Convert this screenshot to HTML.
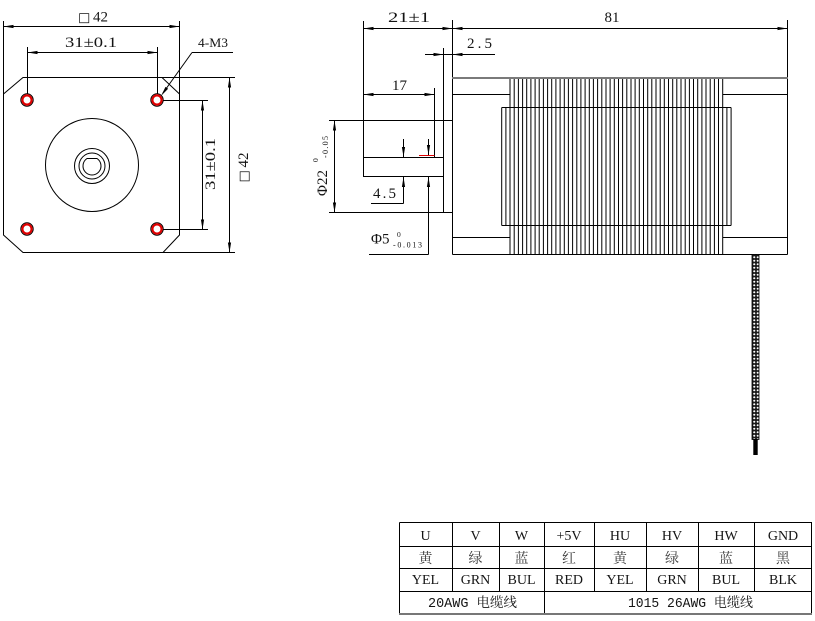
<!DOCTYPE html>
<html>
<head>
<meta charset="utf-8">
<style>
  html,body{margin:0;padding:0;background:#fff;}
  svg{display:block;}
  .t{font-family:"Liberation Serif","Noto Serif CJK SC",serif;fill:#141414;}
  .m{font-family:"Liberation Mono","Noto Serif CJK SC",monospace;fill:#141414;}
  .cj{font-family:"Liberation Serif","Noto Serif CJK SC",serif;fill:#3a3a3a;}
</style>
</head>
<body>
<svg width="815" height="621" viewBox="0 0 815 621" xmlns="http://www.w3.org/2000/svg">
  <defs>
    <pattern id="braid" width="3.5" height="3.5" patternUnits="userSpaceOnUse">
      <rect width="3.5" height="3.5" fill="#1a1a1a"/>
      <circle cx="1.75" cy="1.75" r="1.05" fill="#fff"/>
    </pattern>
  </defs>
  <rect width="815" height="621" fill="#fff"/>

  <!-- ================= LEFT (front) VIEW ================= -->
  <g stroke="#000" stroke-width="1" fill="none">
    <polygon points="23,77.5 162,77.5 179.5,94 179.5,235 163,252.5 23,252.5 3.5,235 3.5,94"/>
    <line x1="3.5" y1="21" x2="3.5" y2="94"/>
    <line x1="179.5" y1="21" x2="179.5" y2="94"/>
    <line x1="3.5" y1="26.5" x2="179.5" y2="26.5"/>
    <line x1="27.5" y1="47" x2="27.5" y2="94"/>
    <line x1="157.5" y1="47" x2="157.5" y2="94"/>
    <line x1="27.5" y1="52.5" x2="157.5" y2="52.5"/>
    <line x1="162" y1="77.5" x2="235" y2="77.5"/>
    <line x1="163" y1="252.5" x2="235" y2="252.5"/>
    <line x1="229.5" y1="77.5" x2="229.5" y2="252.5"/>
    <line x1="163" y1="100.5" x2="208" y2="100.5"/>
    <line x1="163" y1="229.5" x2="208" y2="229.5"/>
    <line x1="202.5" y1="100.5" x2="202.5" y2="229.5"/>
    <line x1="192" y1="52.5" x2="233" y2="52.5"/>
    <line x1="192" y1="52.5" x2="163" y2="93"/>
    <circle cx="92" cy="165" r="46.5"/>
    <circle cx="92" cy="166" r="17.5"/>
    <circle cx="92" cy="166" r="13"/>
    <path d="M87,158.5 L97,158.5 A9 9 0 1 1 87,158.5 Z"/>
  </g>
  <g fill="none">
    <g stroke="#000" stroke-width="1">
      <circle cx="27" cy="100" r="6.2"/><circle cx="157" cy="100" r="6.2"/>
      <circle cx="27" cy="229" r="6.2"/><circle cx="157" cy="229" r="6.2"/>
    </g>
    <g stroke="#e00000" stroke-width="2.2">
      <circle cx="27" cy="100" r="4.6"/><circle cx="157" cy="100" r="4.6"/>
      <circle cx="27" cy="229" r="4.6"/><circle cx="157" cy="229" r="4.6"/>
    </g>
  </g>
  <g fill="#000">
    <polygon points="3.5,26.5 13.5,24.9 13.5,28.1"/>
    <polygon points="179.5,26.5 169.5,24.9 169.5,28.1"/>
    <polygon points="27.5,52.5 37.5,50.9 37.5,54.1"/>
    <polygon points="157.5,52.5 147.5,50.9 147.5,54.1"/>
    <polygon points="229.5,77.5 227.9,87.5 231.1,87.5"/>
    <polygon points="229.5,252.5 227.9,242.5 231.1,242.5"/>
    <polygon points="202.5,100.5 200.9,110.5 204.1,110.5"/>
    <polygon points="202.5,229.5 200.9,219.5 204.1,219.5"/>
    <polygon points="161,96 168.1,88.8 165.5,86.9"/>
  </g>
  <text x="78" y="21.5" class="t" font-size="15"><tspan font-family="DejaVu Sans" font-size="13">□</tspan><tspan x="93">42</tspan></text>
  <text x="65" y="47" class="t" font-size="15" textLength="52" lengthAdjust="spacingAndGlyphs">31±0.1</text>
  <text x="198" y="47" class="t" font-size="13" textLength="30" lengthAdjust="spacingAndGlyphs">4-M3</text>
  <g transform="translate(215,190) rotate(-90)">
    <text x="0" y="0" class="t" font-size="15" textLength="52" lengthAdjust="spacingAndGlyphs">31±0.1</text>
  </g>
  <g transform="translate(248,182.5) rotate(-90)">
    <text x="0" y="0" class="t" font-size="15"><tspan font-family="DejaVu Sans" font-size="13">□</tspan><tspan x="15">42</tspan></text>
  </g>

  <!-- ================= RIGHT (side) VIEW ================= -->
  <path stroke="#000" stroke-width="1" fill="none" d="
    M510.0 78V254 M514.2 78V254 M518.4 78V254 M522.6 78V254 M526.7 78V254 M530.9 78V254
    M535.1 78V254 M539.2 78V254 M543.4 78V254 M547.6 78V254 M551.7 78V254 M555.9 78V254
    M560.1 78V254 M564.3 78V254 M568.4 78V254 M572.6 78V254 M576.8 78V254 M580.9 78V254
    M585.1 78V254 M589.3 78V254 M593.4 78V254 M597.6 78V254 M601.8 78V254 M606.0 78V254
    M610.1 78V254 M614.3 78V254 M618.5 78V254 M622.6 78V254 M626.8 78V254 M631.0 78V254
    M635.1 78V254 M639.3 78V254 M643.5 78V254 M647.7 78V254 M651.8 78V254 M656.0 78V254
    M660.2 78V254 M664.3 78V254 M668.5 78V254 M672.7 78V254 M676.8 78V254 M681.0 78V254
    M685.2 78V254 M689.4 78V254 M693.5 78V254 M697.7 78V254 M701.9 78V254 M706.0 78V254
    M710.2 78V254 M714.4 78V254 M718.5 78V254 M722.7 78V254
    M501.7 107.5V225.5 M505.9 107.5V225.5 M726.9 107.5V225.5 M731.1 107.5V225.5
    M501.7 107.5H731.1 M501.7 225.5H731.1"/>
  <g stroke="#000" stroke-width="1" fill="none">
    <line x1="452.5" y1="20" x2="452.5" y2="254.5"/>
    <line x1="787.5" y1="20" x2="787.5" y2="254.5"/>
    <line x1="452.5" y1="254.5" x2="787.5" y2="254.5"/>
    <line x1="452.5" y1="94.5" x2="510" y2="94.5"/>
    <line x1="722.7" y1="94.5" x2="787.5" y2="94.5"/>
    <line x1="452.5" y1="237.5" x2="510" y2="237.5"/>
    <line x1="722.7" y1="237.5" x2="787.5" y2="237.5"/>
    <line x1="363.5" y1="21" x2="363.5" y2="177"/>
    <line x1="363.5" y1="28.5" x2="787.5" y2="28.5"/>
    <line x1="425" y1="54.5" x2="495" y2="54.5"/>
    <line x1="443.5" y1="48" x2="443.5" y2="212.5"/>
    <line x1="363.5" y1="94.5" x2="434.5" y2="94.5"/>
    <line x1="434.5" y1="88" x2="434.5" y2="157.5"/>
    <line x1="363.5" y1="157.5" x2="443.5" y2="157.5"/>
    <line x1="363.5" y1="176.5" x2="443.5" y2="176.5"/>
    <line x1="329" y1="120.5" x2="452.5" y2="120.5"/>
    <line x1="329" y1="212.5" x2="452.5" y2="212.5"/>
    <line x1="334.5" y1="120.5" x2="334.5" y2="212.5"/>
    <line x1="403.5" y1="139" x2="403.5" y2="157"/>
    <line x1="403.5" y1="177" x2="403.5" y2="203.5"/>
    <line x1="371" y1="203.5" x2="403.5" y2="203.5"/>
    <line x1="428.5" y1="139" x2="428.5" y2="155"/>
    <line x1="428.5" y1="177" x2="428.5" y2="254.5"/>
    <line x1="369" y1="254.5" x2="428.5" y2="254.5"/>
  </g>
  <line x1="452" y1="78" x2="788" y2="78" stroke="#7a7a7a" stroke-width="2"/>
  <line x1="419" y1="155.5" x2="434.5" y2="155.5" stroke="#e00000" stroke-width="1"/>
  <g fill="#000">
    <polygon points="363.5,28.5 373.5,26.9 373.5,30.1"/>
    <polygon points="452.5,28.5 442.5,26.9 442.5,30.1"/>
    <polygon points="452.5,28.5 462.5,26.9 462.5,30.1"/>
    <polygon points="787.5,28.5 777.5,26.9 777.5,30.1"/>
    <polygon points="443.5,54.5 433.5,52.9 433.5,56.1"/>
    <polygon points="452.5,54.5 462.5,52.9 462.5,56.1"/>
    <polygon points="363.5,94.5 373.5,92.9 373.5,96.1"/>
    <polygon points="434.5,94.5 424.5,92.9 424.5,96.1"/>
    <polygon points="334.5,120.5 332.9,130.5 336.1,130.5"/>
    <polygon points="334.5,212.5 332.9,202.5 336.1,202.5"/>
    <polygon points="403.5,157 401.9,147 405.1,147"/>
    <polygon points="403.5,177 401.9,187 405.1,187"/>
    <polygon points="428.5,155 426.9,145 430.1,145"/>
    <polygon points="428.5,177 426.9,187 430.1,187"/>
  </g>
  <rect x="752" y="254.5" width="7" height="185" fill="url(#braid)" stroke="#000" stroke-width="0.8"/>
  <rect x="753.3" y="439" width="4.4" height="16" fill="#000"/>

  <text x="388" y="22" class="t" font-size="15" textLength="42" lengthAdjust="spacingAndGlyphs">21±1</text>
  <text x="612" y="22" class="t" font-size="15" text-anchor="middle">81</text>
  <text x="467" y="48" class="t" font-size="15" textLength="25" lengthAdjust="spacing">2.5</text>
  <text x="392" y="90" class="t" font-size="15">17</text>
  <text x="373" y="198" class="t" font-size="15" textLength="23" lengthAdjust="spacing">4.5</text>
  <text x="371" y="243.5" class="t" font-size="15">Φ5</text>
  <text x="397" y="237" class="t" font-size="7.5">0</text>
  <text x="393" y="247.5" class="t" font-size="8" textLength="29" lengthAdjust="spacing">-0.013</text>
  <g transform="translate(327,196) rotate(-90)">
    <text x="0" y="0" class="t" font-size="15">Φ22</text>
    <text x="34" y="-9" class="t" font-size="7.5">0</text>
    <text x="38" y="1" class="t" font-size="8" textLength="22" lengthAdjust="spacing">-0.05</text>
  </g>

  <!-- ================= TABLE ================= -->
  <g stroke="#000" stroke-width="1" fill="none">
    <line x1="399.5" y1="522.5" x2="812" y2="522.5"/>
    <line x1="399.5" y1="522.5" x2="399.5" y2="614"/>
    <line x1="811.5" y1="522.5" x2="811.5" y2="614"/>
    <line x1="399.5" y1="546.5" x2="812" y2="546.5"/>
    <line x1="399.5" y1="568.5" x2="812" y2="568.5"/>
    <line x1="399.5" y1="591.5" x2="812" y2="591.5"/>
    <line x1="452.5" y1="522.5" x2="452.5" y2="591.5"/>
    <line x1="499.5" y1="522.5" x2="499.5" y2="591.5"/>
    <line x1="544.5" y1="522.5" x2="544.5" y2="614"/>
    <line x1="594.5" y1="522.5" x2="594.5" y2="591.5"/>
    <line x1="646.5" y1="522.5" x2="646.5" y2="591.5"/>
    <line x1="698.5" y1="522.5" x2="698.5" y2="591.5"/>
    <line x1="754.5" y1="522.5" x2="754.5" y2="591.5"/>
  </g>
  <line x1="399" y1="614" x2="812" y2="614" stroke="#777" stroke-width="2"/>

  <g class="t" font-size="14" text-anchor="middle">
    <text x="425.5" y="540">U</text>
    <text x="475.5" y="540">V</text>
    <text x="521.5" y="540">W</text>
    <text x="569" y="540">+5V</text>
    <text x="620" y="540">HU</text>
    <text x="672" y="540">HV</text>
    <text x="726" y="540">HW</text>
    <text x="783" y="540">GND</text>

    <text x="425.5" y="584">YEL</text>
    <text x="475.5" y="584">GRN</text>
    <text x="521.5" y="584">BUL</text>
    <text x="569" y="584">RED</text>
    <text x="620" y="584">YEL</text>
    <text x="672" y="584">GRN</text>
    <text x="726" y="584">BUL</text>
    <text x="783" y="584">BLK</text>
  </g>
  <g class="cj" font-size="14" text-anchor="middle">
    <text x="425.5" y="563">黄</text>
    <text x="475.5" y="563">绿</text>
    <text x="521.5" y="563">蓝</text>
    <text x="569" y="563">红</text>
    <text x="620" y="563">黄</text>
    <text x="672" y="563">绿</text>
    <text x="726" y="563">蓝</text>
    <text x="783" y="563">黑</text>
  </g>
  <text x="428" y="607" class="m" font-size="13.5" textLength="89" lengthAdjust="spacingAndGlyphs">20AWG 电缆线</text>
  <text x="628" y="607" class="m" font-size="13.5" textLength="125" lengthAdjust="spacingAndGlyphs">1015 26AWG 电缆线</text>
</svg>
</body>
</html>
